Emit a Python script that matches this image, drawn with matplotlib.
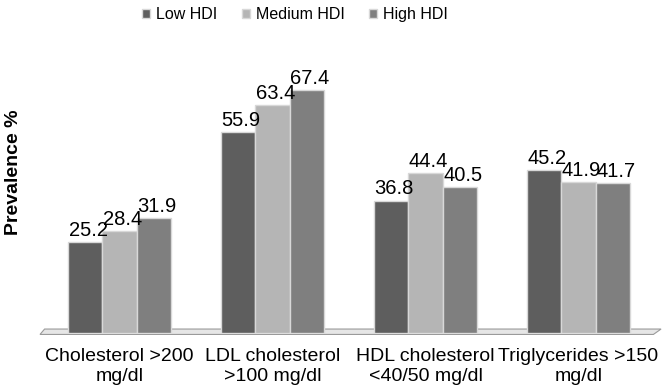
import matplotlib.pyplot as plt
import numpy as np
from matplotlib.patches import Polygon

#----- Data -----
categories = ["Cholesterol >200\nmg/dl", "LDL cholesterol\n>100 mg/dl",
              "HDL cholesterol\n<40/50 mg/dl", "Triglycerides >150\nmg/dl"]
series_names = ["Low HDI", "Medium HDI", "High HDI"]
low_hdi = [25.2, 55.9, 36.8, 45.2]
medium_hdi = [28.4, 63.4, 44.4, 41.9]
high_hdi = [31.9, 67.4, 40.5, 41.7]

colors = ["#5e5e5e", "#b5b5b5", "#7f7f7f"]

plt.rcParams["font.family"] = ["Liberation Sans", "DejaVu Sans"]

fig = plt.figure(figsize=(6.66, 3.92), dpi=100)
ax = fig.add_axes([40/666, (392-333)/392, 618/666, 288/392])

x = np.arange(len(categories))
width = 0.225

#----- Floor plate -----
floor = Polygon([(-0.52, -0.4), (3.49, -0.4), (3.54, 1.1), (-0.49, 1.1)],
                closed=True, facecolor="#e6e6e6", edgecolor="#9a9a9a",
                linewidth=0.8, clip_on=False, zorder=1)
ax.add_patch(floor)

for k, (vals, name) in enumerate(zip([low_hdi, medium_hdi, high_hdi], series_names)):
    pos = x + (k - 1) * width
    bars = ax.bar(pos, vals, width, color=colors[k], edgecolor="#d8d8d8",
                  linewidth=1.0, label=name, zorder=2)
    for b, v in zip(bars, vals):
        ax.text(b.get_x() + b.get_width()/2 + 0.02, v + 0.6, "%.1f" % v,
                ha="center", va="bottom", fontsize=14.5)

ax.set_xlim(-0.52, 3.52)
ax.set_ylim(0, 80)
ax.set_xticks(x)
ax.set_xticklabels(categories, fontsize=14, linespacing=1.2)
ax.tick_params(axis="x", length=0, pad=11)
ax.set_yticks([])
for s in ax.spines.values():
    s.set_visible(False)

fig.text(0.02, 0.561, "Prevalence %", rotation=90, fontsize=14, fontweight="bold",
         ha="center", va="center")

leg = fig.legend(loc="center", bbox_to_anchor=(0.443, 0.963), ncol=3, frameon=False,
                 fontsize=11.5, handlelength=0.5, handleheight=0.5, handletextpad=0.4,
                 columnspacing=1.5)

plt.savefig("out.png", dpi=100)
